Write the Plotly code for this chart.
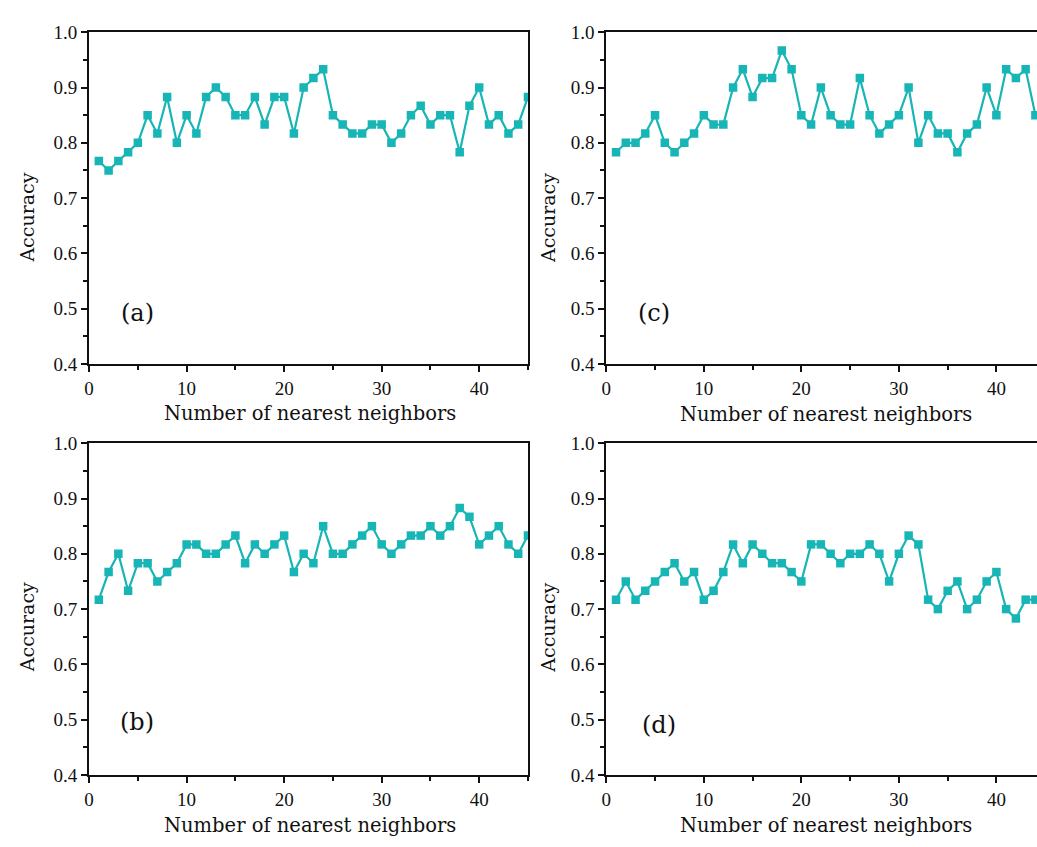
import plotly.graph_objects as go

neighbors = list(range(1, 46))

acc_a = [0.767, 0.750, 0.767, 0.783, 0.800, 0.850, 0.817, 0.883, 0.800, 0.850,
         0.817, 0.883, 0.900, 0.883, 0.850, 0.850, 0.883, 0.833, 0.883, 0.883,
         0.817, 0.900, 0.917, 0.933, 0.850, 0.833, 0.817, 0.817, 0.833, 0.833,
         0.800, 0.817, 0.850, 0.867, 0.833, 0.850, 0.850, 0.783, 0.867, 0.900,
         0.833, 0.850, 0.817, 0.833, 0.883]

acc_b = [0.717, 0.767, 0.800, 0.733, 0.783, 0.783, 0.750, 0.767, 0.783, 0.817,
         0.817, 0.800, 0.800, 0.817, 0.833, 0.783, 0.817, 0.800, 0.817, 0.833,
         0.767, 0.800, 0.783, 0.850, 0.800, 0.800, 0.817, 0.833, 0.850, 0.817,
         0.800, 0.817, 0.833, 0.833, 0.850, 0.833, 0.850, 0.883, 0.867, 0.817,
         0.833, 0.850, 0.817, 0.800, 0.833]

acc_c = [0.783, 0.800, 0.800, 0.817, 0.850, 0.800, 0.783, 0.800, 0.817, 0.850,
         0.833, 0.833, 0.900, 0.933, 0.883, 0.917, 0.917, 0.967, 0.933, 0.850,
         0.833, 0.900, 0.850, 0.833, 0.833, 0.917, 0.850, 0.817, 0.833, 0.850,
         0.900, 0.800, 0.850, 0.817, 0.817, 0.783, 0.817, 0.833, 0.900, 0.850,
         0.933, 0.917, 0.933, 0.850, 0.850]

acc_d = [0.717, 0.750, 0.717, 0.733, 0.750, 0.767, 0.783, 0.750, 0.767, 0.717,
         0.733, 0.767, 0.817, 0.783, 0.817, 0.800, 0.783, 0.783, 0.767, 0.750,
         0.817, 0.817, 0.800, 0.783, 0.800, 0.800, 0.817, 0.800, 0.750, 0.800,
         0.833, 0.817, 0.717, 0.700, 0.733, 0.750, 0.700, 0.717, 0.750, 0.767,
         0.700, 0.683, 0.717, 0.717, 0.717]

panel_labels = ["(a)", "(b)", "(c)", "(d)"]
x_title = "Number of nearest neighbors"
y_title = "Accuracy"

W, H = 1037, 847
COLOR = "#17B5B5"
FONT = "DejaVu Serif"
TICKFONT = "Liberation Serif"
TXT = "#111"

def px(x):
    return x / W

def py(y):
    return 1 - y / H

# pixel geometry of the four panels
left_x = [84.5, 525.5]
right_x = [604.2, 1037]
top_y = [22.8, 363.0]
bot_y = [444.3, 784.3]
unit = (left_x[1] - left_x[0]) / 45.0

panels = [
    ("a", acc_a, left_x, top_y, 45.0, True),
    ("b", acc_b, left_x, bot_y, 45.0, True),
    ("c", acc_c, right_x, top_y, (right_x[1] - right_x[0]) / unit, False),
    ("d", acc_d, right_x, bot_y, (right_x[1] - right_x[0]) / unit, False),
]

fig = go.Figure()
layout = dict(
    width=W, height=H,
    margin=dict(l=0, r=0, t=0, b=0),
    paper_bgcolor="white", plot_bgcolor="white",
    showlegend=False,
    font=dict(family=FONT, size=17, color=TXT),
)
annotations = []

for i, (name, vals, xs, ys, xmax, right_line) in enumerate(panels):
    idx = "" if i == 0 else str(i + 1)
    fig.add_trace(go.Scatter(
        x=neighbors, y=vals, mode="lines+markers",
        xaxis="x" + idx, yaxis="y" + idx,
        line=dict(color=COLOR, width=2.2),
        marker=dict(symbol="square", size=8.5, color=COLOR),
        cliponaxis=True,
    ))
    layout["xaxis" + idx] = dict(
        domain=[px(xs[0]), min(1.0, px(xs[1]))],
        anchor="y" + idx,
        range=[0, xmax],
        tickmode="linear", tick0=0, dtick=10,
        ticks="outside", ticklen=6, tickwidth=1.5, tickcolor=TXT,
        minor=dict(dtick=5, tick0=0, ticks="outside", ticklen=4, tickwidth=1.5, tickcolor=TXT),
        showline=True, linecolor=TXT, linewidth=2, mirror=True,
        showgrid=False, zeroline=False,
        tickfont=dict(family=TICKFONT, size=19, color=TXT),
    )
    layout["yaxis" + idx] = dict(
        domain=[py(ys[1]), py(ys[0])],
        anchor="x" + idx,
        range=[0.4, 1.0],
        tickmode="linear", tick0=0.4, dtick=0.1, tickformat=".1f",
        ticks="outside", ticklen=6, tickwidth=1.5, tickcolor=TXT,
        minor=dict(dtick=0.05, tick0=0.4, ticks="outside", ticklen=4, tickwidth=1.5, tickcolor=TXT),
        showline=True, linecolor=TXT, linewidth=2, mirror=right_line,
        showgrid=False, zeroline=False,
        tickfont=dict(family=TICKFONT, size=19, color=TXT),
    )

# x-axis titles
for cx, cy in [(306, 414), (825, 415), (306, 836), (825, 836)]:
    annotations.append(dict(x=px(cx), y=py(cy), xref="paper", yref="paper",
                            text=x_title, showarrow=False, xanchor="center", yanchor="middle",
                            font=dict(family=FONT, size=19.5, color=TXT)))
# y-axis titles
for cx, cy in [(22, 213), (545, 213), (22, 633), (546, 633)]:
    annotations.append(dict(x=px(cx), y=py(cy), xref="paper", yref="paper",
                            text=y_title, showarrow=False, textangle=-90,
                            xanchor="center", yanchor="middle",
                            font=dict(family=FONT, size=19, color=TXT)))
# panel labels
for lab, (cx, cy) in zip(panel_labels, [(133, 311), (133, 730), (652, 311), (657, 733)]):
    annotations.append(dict(x=px(cx), y=py(cy), xref="paper", yref="paper",
                            text=lab, showarrow=False, xanchor="center", yanchor="middle",
                            font=dict(family=FONT, size=24, color=TXT)))

layout["annotations"] = annotations
fig.update_layout(**layout)
fig.write_html("out.html")
